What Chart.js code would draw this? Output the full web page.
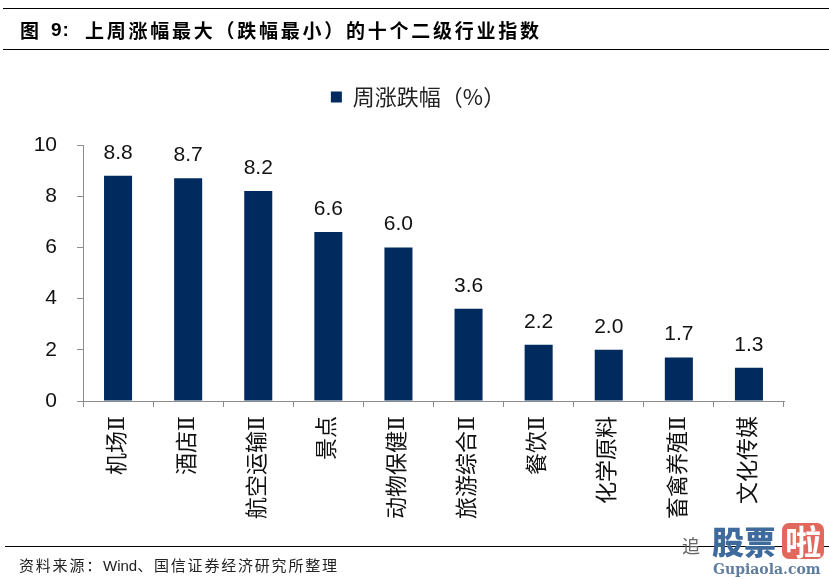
<!DOCTYPE html>
<html><head><meta charset="utf-8">
<style>
html,body{margin:0;padding:0;background:#fff;}
#wrap{position:relative;width:829px;height:579px;overflow:hidden;background:#fff;}
canvas{position:absolute;left:0;top:0;}
.rule{position:absolute;height:1px;background:#000;}
.t{position:absolute;white-space:pre;color:#000;}
.ttl{font:bold 19px 'Noto Sans CJK SC';line-height:24px;top:18px;}
</style>
<script src="https://cdn.jsdelivr.net/npm/chart.js@4"></script>
</head><body>
<div id="wrap">
<canvas id="c" width="829" height="579"></canvas>
<div class="rule" style="left:3px;top:8px;width:826px"></div>
<div class="rule" style="left:3px;top:49px;width:826px"></div>
<div class="t ttl" style="left:20px">图</div>
<div class="t ttl" style="left:51px;font-family:'Liberation Sans';letter-spacing:1px">9:</div>
<div class="t ttl" style="left:85px;letter-spacing:2.75px">上周涨幅最大（跌幅最小）的十个二级行业指数</div>
<div class="rule" style="left:5px;top:546px;width:824px"></div>
<div class="t" style="left:19px;top:556px;font:15px 'Noto Sans CJK SC';line-height:18px;color:#222;letter-spacing:1.8px">资料来源：<span style="font-family:'Liberation Sans';letter-spacing:0">Wind</span>、国信证券经济研究所整理</div>
<div class="t" style="left:682px;top:534px;font:18px 'Noto Sans CJK SC';line-height:22px;color:#666">追</div>
<div class="t" style="left:712px;top:521px;font:900 32px 'Noto Sans CJK SC';line-height:38px;color:#3f6a9c">股票</div>
<div style="position:absolute;left:782px;top:523px;width:42px;height:36px;background:#e0685c;border-radius:7px"></div>
<div class="t" style="left:785px;top:522px;font:bold 34px 'Noto Sans CJK SC';line-height:38px;color:#fff;transform-origin:left center;transform:scaleX(1.07)">啦</div>
<div class="t" style="left:713px;top:560px;font:bold 14px 'DejaVu Serif';line-height:18px;color:#5f7d9e">Gupiaola.com</div>
</div>
<script>
const categories = ['机场Ⅱ','酒店Ⅱ','航空运输Ⅱ','景点','动物保健Ⅱ','旅游综合Ⅱ','餐饮Ⅱ','化学原料','畜禽养殖Ⅱ','文化传媒'];
const seriesName = '周涨跌幅（%）';
const values = [8.8,8.7,8.2,6.6,6.0,3.6,2.2,2.0,1.7,1.3];
const yTicks = [0,2,4,6,8,10];
const barColor = '#012a5e';
const axisColor = '#8c8c8c';

const valueLabels = {
  id:'valueLabels',
  afterDatasetsDraw(chart){
    const {ctx} = chart;
    const meta = chart.getDatasetMeta(0);
    ctx.save();
    ctx.font = "21px 'Liberation Sans'";
    ctx.fillStyle = '#111';
    ctx.textAlign = 'center';
    ctx.textBaseline = 'alphabetic';
    meta.data.forEach((bar,i)=>{
      ctx.fillText(values[i].toFixed(1), bar.x, bar.y - 17);
    });
    ctx.restore();
  }
};

const legendShift = {
  id:'legendShift',
  afterLayout(chart){
    const l = chart.legend;
    l.left += 26; l.right += 26;
    l.top -= 27; l.bottom -= 27;
  }
};

new Chart(document.getElementById('c'),{
  type:'bar',
  data:{labels:categories,datasets:[{label:seriesName,data:values,backgroundColor:barColor,borderWidth:0,barPercentage:0.4,categoryPercentage:1}]},
  options:{
    responsive:false,animation:false,
    layout:{padding:{left:0,right:45,top:103,bottom:0}},
    plugins:{
      tooltip:{enabled:false},
      legend:{display:true,position:'top',labels:{
        font:{family:"'Noto Sans CJK SC'",size:22},color:'#222',boxWidth:11,boxHeight:11,padding:10
      }}
    },
    scales:{
      x:{
        position:'bottom',
        afterFit(a){a.height=178;},
        grid:{display:true,drawOnChartArea:false,drawTicks:true,tickLength:6,color:axisColor,offset:true},
        border:{display:true,color:axisColor,width:1},
        ticks:{
          autoSkip:false,maxRotation:90,minRotation:90,padding:9,
          font:{family:"'DejaVu Serif','Noto Sans CJK SC'",size:22},color:'#111'
        }
      },
      y:{
        min:0,max:10,
        afterFit(a){a.width=83;},
        afterBuildTicks(axis){axis.ticks = yTicks.map(v=>({value:v}));},
        grid:{display:true,drawOnChartArea:false,drawTicks:true,tickLength:6,color:axisColor},
        border:{display:true,color:axisColor,width:1},
        ticks:{padding:20,font:{family:"'Liberation Sans'",size:21},color:'#111'}
      }
    }
  },
  plugins:[valueLabels,legendShift]
});
</script>
</body></html>
